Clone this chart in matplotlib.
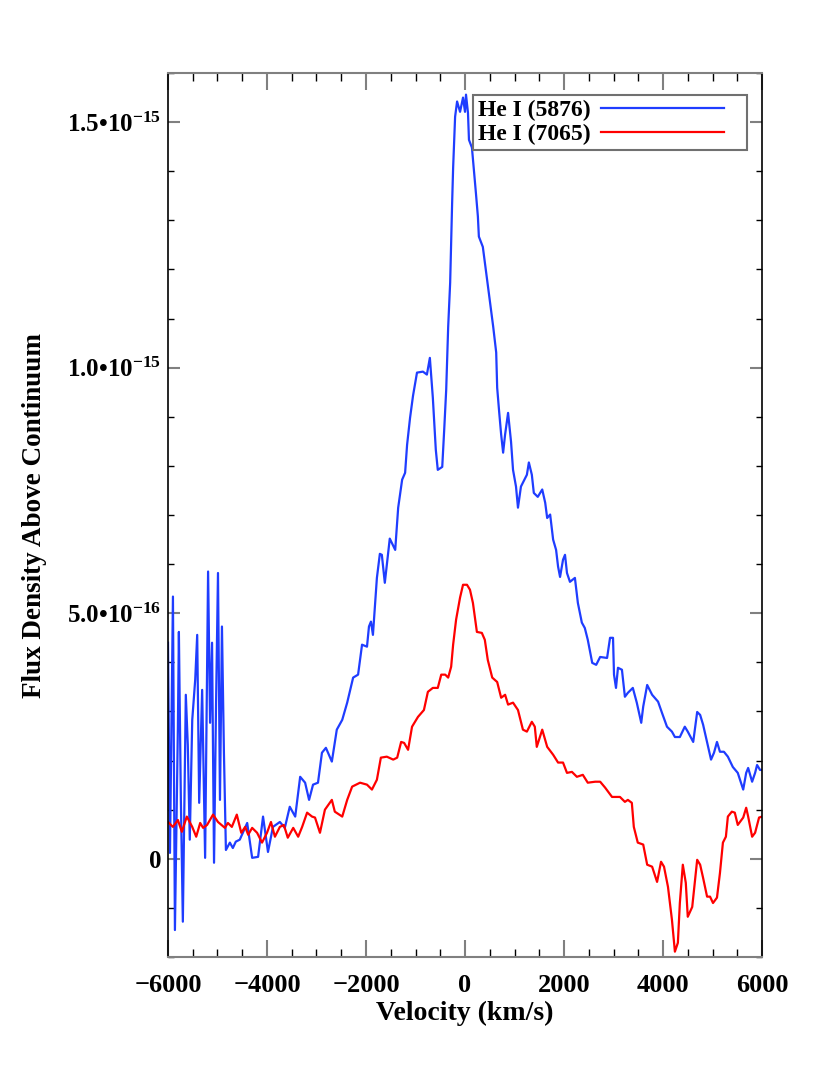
import numpy as np
import matplotlib.pyplot as plt
from matplotlib.ticker import MultipleLocator, FixedLocator, FixedFormatter
from matplotlib.legend_handler import HandlerLine2D

plt.rcParams['font.family'] = ['Liberation Serif', 'DejaVu Serif']
plt.rcParams['font.weight'] = 'bold'
plt.rcParams['mathtext.fontset'] = 'custom'
plt.rcParams['mathtext.rm'] = 'Liberation Serif:bold'
plt.rcParams['mathtext.it'] = 'Liberation Serif:bold'
plt.rcParams['mathtext.bf'] = 'Liberation Serif:bold'

# He I 5876 (flux in units of 1e-16)
v_5876 = [-6000, -5960, -5900, -5860, -5800, -5780, -5740, -5700, -5640, -5600,
          -5560, -5510, -5450, -5410, -5370, -5310, -5250, -5190, -5150, -5110,
          -5070, -5030, -4990, -4950, -4910, -4870, -4830, -4750, -4690, -4630,
          -4550, -4400, -4300, -4180, -4080, -3980, -3880, -3740, -3640, -3540,
          -3430, -3330, -3230, -3150, -3070, -2970, -2890, -2810, -2690, -2590,
          -2480, -2380, -2260, -2160, -2080, -1980, -1940, -1900, -1860, -1780,
          -1720, -1680, -1620, -1520, -1410, -1350, -1270, -1210, -1170, -1110,
          -1050, -970, -850, -770, -710, -650, -590, -550, -460, -420,
          -380, -340, -300, -280, -260, -240, -200, -160, -100, -40,
          0, 20, 60, 80, 140, 180, 220, 260, 280, 360,
          420, 480, 570, 630, 650, 690, 730, 770, 810, 870,
          930, 970, 1030, 1070, 1130, 1170, 1250, 1290, 1350, 1390,
          1470, 1560, 1620, 1660, 1720, 1780, 1840, 1880, 1920, 1980,
          2020, 2060, 2120, 2220, 2280, 2360, 2420, 2480, 2570, 2650,
          2730, 2870, 2930, 2990, 3010, 3050, 3090, 3170, 3230, 3290,
          3390, 3470, 3560, 3600, 3680, 3780, 3900, 3980, 4080, 4180,
          4240, 4340, 4440, 4500, 4610, 4690, 4750, 4810, 4890, 4970,
          5030, 5090, 5150, 5230, 5310, 5410, 5510, 5620, 5680, 5720,
          5800, 5860, 5900, 5960, 6000]
f_5876 = [4.40, 0.12, 5.34, -1.45, 2.69, 4.62, 1.20, -1.28, 3.34, 2.32,
          0.39, 2.83, 3.65, 4.56, 1.14, 3.44, 0.02, 5.85, 2.77, 4.40,
          -0.08, 3.10, 5.82, 1.20, 4.73, 2.16, 0.18, 0.33, 0.22, 0.35,
          0.39, 0.73, 0.02, 0.04, 0.86, 0.14, 0.65, 0.75, 0.63, 1.06,
          0.86, 1.67, 1.55, 1.20, 1.51, 1.55, 2.16, 2.26, 1.98, 2.63,
          2.83, 3.18, 3.69, 3.75, 4.36, 4.32, 4.73, 4.83, 4.56, 5.72,
          6.21, 6.19, 5.62, 6.52, 6.29, 7.15, 7.72, 7.86, 8.43, 8.98,
          9.43, 9.90, 9.92, 9.86, 10.20, 9.39, 8.33, 7.92, 7.98, 8.74,
          9.55, 10.83, 11.73, 12.57, 13.36, 14.07, 15.11, 15.42, 15.21, 15.50,
          15.21, 15.56, 15.19, 14.64, 14.48, 14.03, 13.56, 13.08, 12.67, 12.46,
          12.00, 11.53, 10.83, 10.31, 9.59, 9.10, 8.64, 8.27, 8.64, 9.08,
          8.49, 7.92, 7.58, 7.15, 7.58, 7.66, 7.82, 8.07, 7.82, 7.45,
          7.37, 7.52, 7.25, 6.94, 7.01, 6.50, 6.29, 5.95, 5.74, 6.09,
          6.19, 5.82, 5.64, 5.72, 5.21, 4.81, 4.70, 4.46, 3.99, 3.95,
          4.11, 4.09, 4.50, 4.50, 3.75, 3.48, 3.89, 3.85, 3.30, 3.38,
          3.48, 3.18, 2.77, 3.10, 3.54, 3.34, 3.20, 2.97, 2.69, 2.59,
          2.48, 2.48, 2.69, 2.59, 2.38, 2.99, 2.93, 2.73, 2.38, 2.02,
          2.16, 2.38, 2.18, 2.18, 2.08, 1.87, 1.75, 1.41, 1.75, 1.85,
          1.57, 1.75, 1.91, 1.81, 1.81]

# He I 7065 (flux in units of 1e-16)
v_7065 = [-6000, -5900, -5800, -5720, -5620, -5510, -5430, -5350, -5290, -5210,
          -5090, -4990, -4850, -4790, -4710, -4610, -4520, -4440, -4380, -4300,
          -4200, -4100, -4000, -3920, -3840, -3740, -3660, -3580, -3470, -3370,
          -3290, -3190, -3090, -3030, -2930, -2830, -2690, -2630, -2480, -2380,
          -2280, -2120, -1980, -1880, -1780, -1700, -1580, -1450, -1370, -1290,
          -1230, -1150, -1070, -950, -830, -750, -650, -550, -480, -400,
          -340, -280, -240, -180, -100, -40, 40, 100, 160, 240,
          340, 400, 460, 550, 650, 730, 810, 870, 970, 1070,
          1170, 1250, 1350, 1410, 1450, 1560, 1660, 1780, 1880, 1980,
          2060, 2160, 2260, 2380, 2480, 2630, 2730, 2830, 2970, 3130,
          3230, 3290, 3370, 3410, 3490, 3600, 3680, 3780, 3880, 3960,
          4020, 4100, 4180, 4240, 4300, 4340, 4400, 4460, 4500, 4590,
          4690, 4750, 4810, 4890, 4950, 5010, 5090, 5150, 5210, 5270,
          5310, 5390, 5450, 5510, 5620, 5680, 5720, 5800, 5860, 5940,
          6000]
f_7065 = [0.75, 0.65, 0.79, 0.55, 0.86, 0.65, 0.45, 0.73, 0.63, 0.69,
          0.90, 0.75, 0.63, 0.73, 0.65, 0.90, 0.53, 0.65, 0.49, 0.63,
          0.53, 0.33, 0.53, 0.75, 0.45, 0.65, 0.69, 0.43, 0.63, 0.45,
          0.65, 0.94, 0.86, 0.84, 0.53, 1.00, 1.20, 0.96, 0.86, 1.20,
          1.47, 1.55, 1.51, 1.41, 1.61, 2.06, 2.08, 2.02, 2.06, 2.38,
          2.36, 2.22, 2.69, 2.89, 3.03, 3.40, 3.48, 3.48, 3.75, 3.75,
          3.69, 3.91, 4.36, 4.87, 5.32, 5.58, 5.58, 5.48, 5.21, 4.62,
          4.60, 4.46, 4.05, 3.69, 3.60, 3.28, 3.34, 3.14, 3.18, 3.03,
          2.63, 2.59, 2.79, 2.69, 2.28, 2.63, 2.28, 2.12, 1.96, 1.96,
          1.75, 1.77, 1.67, 1.71, 1.55, 1.57, 1.57, 1.45, 1.26, 1.26,
          1.16, 1.20, 1.14, 0.65, 0.33, 0.29, -0.12, -0.16, -0.47, -0.06,
          -0.16, -0.57, -1.24, -1.89, -1.71, -0.90, -0.12, -0.49, -1.18, -0.98,
          -0.02, -0.12, -0.39, -0.77, -0.77, -0.90, -0.79, -0.29, 0.33, 0.45,
          0.86, 0.96, 0.94, 0.69, 0.84, 1.04, 0.86, 0.45, 0.53, 0.84,
          0.86]

ytick_vals = [0, 5e-16, 1e-15, 1.5e-15]
ytick_labels = ['0', r'5.0•10$^{-16}$', r'1.0•10$^{-15}$', r'1.5•10$^{-15}$']


# legend line is a bit shorter than the handle box (gap on the right)
class ShortLine(HandlerLine2D):
    def create_artists(self, legend, orig_handle, xdescent, ydescent, width, height, fontsize, trans):
        return super().create_artists(legend, orig_handle, xdescent, ydescent,
                                      width - 0.8 * fontsize, height, fontsize, trans)


fig = plt.figure(figsize=(8.3, 10.74), dpi=100)
ax = fig.add_axes([0.2024, 0.1089, 0.7157, 0.8231])

l1, = ax.plot(v_5876, np.array(f_5876) * 1e-16, color='#1f3dff', lw=1.6, label='He I (5876)')
l2, = ax.plot(v_7065, np.array(f_7065) * 1e-16, color='#ff0000', lw=1.6, label='He I (7065)')

ax.set_xlim(-6000, 6000)
ax.set_ylim(-2e-16, 1.6e-15)

ax.xaxis.set_major_locator(MultipleLocator(2000))
ax.xaxis.set_minor_locator(MultipleLocator(500))
ax.yaxis.set_major_locator(FixedLocator(ytick_vals))
ax.yaxis.set_major_formatter(FixedFormatter(ytick_labels))
ax.yaxis.set_minor_locator(MultipleLocator(1e-16))

ax.tick_params(axis='both', which='both', direction='in', top=True, right=True)
ax.tick_params(axis='x', which='major', length=12, width=1.5, color='#808080', labelsize=19, pad=12)
ax.tick_params(axis='x', which='minor', length=5.5, width=1, color='black')
ax.tick_params(axis='y', which='major', length=8.5, width=1.5, color='#808080', labelsize=18, pad=5)
ax.tick_params(axis='y', which='minor', length=4.3, width=1, color='black')
for lab in ax.get_xticklabels() + ax.get_yticklabels():
    lab.set_fontweight('bold')

for side in ['top', 'bottom']:
    ax.spines[side].set_color('#808080')
    ax.spines[side].set_linewidth(1.5)
for side in ['left', 'right']:
    ax.spines[side].set_color('black')
    ax.spines[side].set_linewidth(1.2)

ax.set_xlabel('Velocity (km/s)', fontsize=20, fontweight='bold', labelpad=3)
ax.set_ylabel('Flux Density Above Continuum', fontsize=19.5, fontweight='bold', labelpad=14)

leg = ax.legend(handles=[l1, l2], loc='upper right', bbox_to_anchor=(0.975, 0.975),
                borderaxespad=0, markerfirst=False, handlelength=6.0, fancybox=False,
                framealpha=1, edgecolor='#707070', borderpad=0.2, labelspacing=0.1,
                handletextpad=0.45, prop={'weight': 'bold', 'size': 17},
                handler_map={l1: ShortLine(), l2: ShortLine()})
leg.get_frame().set_linewidth(1.5)

plt.savefig('out.png', dpi=100)
